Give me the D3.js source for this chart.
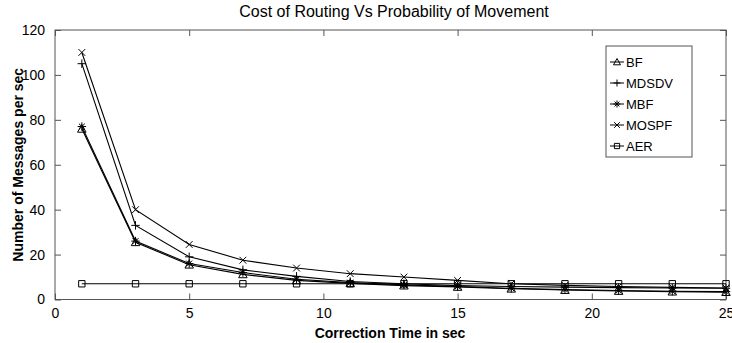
<!DOCTYPE html>
<html><head><meta charset="utf-8">
<script src="https://d3js.org/d3.v7.min.js"></script>
<style>
body{margin:0;background:#fff;}
svg{display:block;font-family:"Liberation Sans",Arial,Helvetica,sans-serif;}
</style></head>
<body>
<svg id="chart" width="732" height="343"></svg>
<script>
const xValues = [1,3,5,7,9,11,13,15,17,19,21,23,25];
const bf    = [76,25.5,15.5,11.2,8.5,7.2,6.2,5.6,4.8,4.2,3.8,3.5,3.3];
const mdsdv = [105,33,19,13.2,10.3,8,7,6.2,5.8,5.5,5.3,5.1,5];
const mbf   = [77,26,16,12,9,7.5,6.5,5.8,5,4.4,4,3.7,3.5];
const mospf = [110,40,24.5,17.5,14,11.5,10,8.5,7,6.3,5.8,5.4,5.1];
const aer   = [7,7,7,7,7,7,7,7,7,7,7,7,7];
const seriesNames = ["BF","MDSDV","MBF","MOSPF","AER"];
const seriesValues = [bf, mdsdv, mbf, mospf, aer];
const seriesMarkers = ["triangle","plus","star","cross","square"];
const xTicks = [0,5,10,15,20,25];
const yTicks = [0,20,40,60,80,100,120];
const title = "Cost of Routing Vs Probability of Movement";
const xLabel = "Correction Time in sec";
const yLabel = "Number of Messages per sec";

const L = 55, R = 726, T = 30, B = 299.5;
const svg = d3.select("#chart");
const x = d3.scaleLinear().domain([0,25]).range([L,R]);
const y = d3.scaleLinear().domain([0,120]).range([B,T]);
const axisColor = "#555";

function markerPath(type, s){
  const h = s/2;
  switch(type){
    case "triangle": return `M0,${-h}L${h},${h*0.8}L${-h},${h*0.8}Z`;
    case "plus": return `M${-h},0L${h},0M0,${-h}L0,${h}`;
    case "cross": return `M${-h*0.8},${-h*0.8}L${h*0.8},${h*0.8}M${-h*0.8},${h*0.8}L${h*0.8},${-h*0.8}`;
    case "star": return `M${-h},0L${h},0M0,${-h}L0,${h}M${-h*0.7},${-h*0.7}L${h*0.7},${h*0.7}M${-h*0.7},${h*0.7}L${h*0.7},${-h*0.7}`;
    case "square": return `M${-h*0.75},${-h*0.75}H${h*0.75}V${h*0.75}H${-h*0.75}Z`;
  }
}

svg.append("rect").attr("x",L).attr("y",T).attr("width",R-L).attr("height",B-T)
  .attr("fill","none").attr("stroke",axisColor).attr("stroke-width",1);

const xb = svg.append("g").attr("transform",`translate(0,${B})`)
  .call(d3.axisBottom(x).tickValues(xTicks).tickSizeInner(-6).tickSizeOuter(0).tickPadding(14));
const xt = svg.append("g").attr("transform",`translate(0,${T})`)
  .call(d3.axisTop(x).tickValues(xTicks).tickSizeInner(-6).tickSizeOuter(0).tickFormat(""));
const yl = svg.append("g").attr("transform",`translate(${L},0)`)
  .call(d3.axisLeft(y).tickValues(yTicks).tickSizeInner(-6).tickSizeOuter(0).tickPadding(10));
const yr = svg.append("g").attr("transform",`translate(${R},0)`)
  .call(d3.axisRight(y).tickValues(yTicks).tickSizeInner(-6).tickSizeOuter(0).tickFormat(""));
[xb,xt,yl,yr].forEach(g=>{
  g.select(".domain").remove();
  g.selectAll("line").attr("stroke",axisColor);
  g.selectAll("text").attr("fill","#000").style("font-size","14px")
   .style("font-family","'Liberation Sans',Arial,sans-serif");
});
xb.selectAll("text").attr("dy","0.35em");

const line = d3.line().x((d,i)=>x(xValues[i])).y(d=>y(d));
seriesValues.forEach((vals, si)=>{
  svg.append("path").datum(vals).attr("d",line)
    .attr("fill","none").attr("stroke","#000").attr("stroke-width",1.1);
  svg.append("g").selectAll("path").data(vals).join("path")
    .attr("transform",(d,i)=>`translate(${x(xValues[i])},${y(d)})`)
    .attr("d",markerPath(seriesMarkers[si],8.5))
    .attr("fill","none").attr("stroke","#000").attr("stroke-width",1);
});

svg.append("text").attr("x",394).attr("y",17).attr("text-anchor","middle")
  .style("font-size","16px").attr("fill","#000").text(title);
svg.append("text").attr("x",390).attr("y",338).attr("text-anchor","middle")
  .style("font-size","14px").style("font-weight","bold").attr("fill","#000").text(xLabel);
svg.append("text").attr("transform",`translate(23,${(T+B)/2}) rotate(-90)`)
  .attr("text-anchor","middle").style("font-size","14px").style("font-weight","bold")
  .attr("fill","#000").text(yLabel);

const lg = svg.append("g");
lg.append("rect").attr("x",606).attr("y",46).attr("width",86).attr("height",111)
  .attr("fill","#fff").attr("stroke",axisColor).attr("stroke-width",1);
seriesNames.forEach((name,i)=>{
  const cy = 62 + i*21;
  lg.append("line").attr("x1",610).attr("x2",624).attr("y1",cy).attr("y2",cy)
    .attr("stroke","#000").attr("stroke-width",1);
  lg.append("path").attr("transform",`translate(617,${cy})`)
    .attr("d",markerPath(seriesMarkers[i],7)).attr("fill","none").attr("stroke","#000");
  lg.append("text").attr("x",626).attr("y",cy).attr("dy","0.36em")
    .style("font-size","13px").attr("fill","#000").text(name);
});
</script>
</body></html>
